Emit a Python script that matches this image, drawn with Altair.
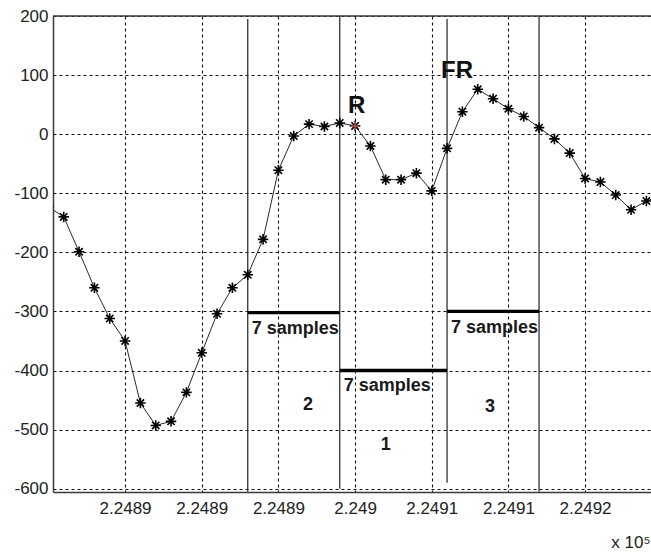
import altair as alt
import pandas as pd

# ECG-like signal, one value per sample (sample numbers are absolute indices)
SAMPLE_START = 224880
signal = [-123, -140, -199, -260, -312, -350, -455, -493, -486, -437,
          -370, -304, -260, -238, -178, -61, -3, 17, 13, 19,
          14, -20, -77, -77, -66, -96, -24, 38, 76, 60,
          43, 30, 11, -8, -32, -75, -81, -103, -128, -113,
          -104]

# axis ticks and their labels (x values shown in units of 1e5)
x_ticks = [224885, 224890, 224895, 224900, 224905, 224910, 224915]
x_tick_labels = ["2.2489", "2.2489", "2.2489", "2.249", "2.2491", "2.2491", "2.2492"]
y_ticks = [-600, -500, -400, -300, -200, -100, 0, 100, 200]
x_domain = [224880.3, 224919.3]
y_domain = [-605.6, 200]

# R peak and the following FR peak
r_sample = 224900
fr_label_sample = 224906.65
fr_label_value = 107

# window boundaries (vertical lines) and their vertical extent
edge_sample = [224893, 224899, 224906, 224912]
edge_top = [195, 200, 195, 200]
edge_bottom = [-605, -600, -590, -605]

# 7-sample windows (thick horizontal bars)
win_start = [224893, 224899, 224906]
win_end = [224899, 224906, 224912]
win_level = [-302, -400, -300]
win_text_value = [-330, -427, -328]
win_number = ["2", "1", "3"]
win_number_sample = [224896.93, 224902.0, 224908.8]
win_number_value = [-458, -526, -462]

FONT = "Liberation Sans"

df = pd.DataFrame({
    "sample": [SAMPLE_START + i for i in range(len(signal))],
    "value": signal,
})
r_df = df[df["sample"] == r_sample]
edges_df = pd.DataFrame({"sample": edge_sample, "top": edge_top, "bottom": edge_bottom})
wins_df = pd.DataFrame({
    "sample": win_start, "end": win_end, "value": win_level,
    "text_value": win_text_value, "label": ["7 samples"] * 3,
})
nums_df = pd.DataFrame({"sample": win_number_sample, "value": win_number_value,
                        "label": win_number})
peaks_df = pd.DataFrame({
    "sample": [r_sample + 0.1, fr_label_sample],
    "value": [48, fr_label_value],
    "label": ["R", "FR"],
})
top_df = pd.DataFrame({"value": [y_domain[1]]})

xs = alt.Scale(domain=x_domain, nice=False, zero=False)
ys = alt.Scale(domain=y_domain, nice=False, zero=False)

label_lookup = "[" + ",".join("'%s'" % s for s in x_tick_labels) + "]"

x_axis = alt.Axis(
    values=x_ticks,
    labelExpr=label_lookup + "[round((datum.value - %d) / 5)]" % x_ticks[0],
    grid=True, gridDash=[3, 3], gridColor="#111111", gridWidth=1.1,
    ticks=False, domainColor="#3a3a3a", domainWidth=1.5,
    labelFont=FONT, labelFontSize=17, labelColor="#222222", labelPadding=8,
    title="x 10\u2075", titleFont=FONT, titleFontSize=17, titleFontWeight="normal",
    titleColor="#222222", titleAlign="right", titleAnchor="end",
    titleX=597, titleY=50, titleBaseline="middle",
)
y_axis = alt.Axis(
    values=y_ticks, labelExpr="'' + datum.value",
    grid=True, gridDash=[3, 3], gridColor="#111111", gridWidth=1.1,
    ticks=False, domainColor="#3a3a3a", domainWidth=1.5,
    labelFont=FONT, labelFontSize=17, labelColor="#222222", labelPadding=5,
    title=None,
)


def X(field):
    return alt.X(field, type="quantitative", scale=xs, axis=x_axis)


def Y(field):
    return alt.Y(field, type="quantitative", scale=ys, axis=y_axis)


line = alt.Chart(df).mark_line(color="#2b2b2b", strokeWidth=1, clip=True).encode(
    x=X("sample"), y=Y("value"),
)

asterisk = "M-1,0L1,0M0,-1L0,1M-0.7,-0.7L0.7,0.7M-0.7,0.7L0.7,-0.7"
points = alt.Chart(df).mark_point(
    shape=asterisk, size=110, filled=False, color="black", strokeWidth=1.6, clip=True,
    opacity=1,
).encode(x=X("sample"), y=Y("value"))

r_mark = alt.Chart(r_df).mark_point(
    shape="M-1,0L1,0M0,-1L0,1", size=70, filled=False, color="#e06060",
    strokeWidth=1.5, opacity=0.85,
).encode(x=X("sample"), y=Y("value"))

top_border = alt.Chart(top_df).mark_rule(color="#3a3a3a", strokeWidth=1.5).encode(
    y=Y("value"),
)

edges = alt.Chart(edges_df).mark_rule(color="#333333", strokeWidth=1.3).encode(
    x=X("sample"), y=Y("top"), y2="bottom:Q",
)

bars = alt.Chart(wins_df).mark_rule(color="black", strokeWidth=3.3).encode(
    x=X("sample"), x2="end:Q", y=Y("value"),
)

win_text = alt.Chart(wins_df).mark_text(
    align="left", baseline="middle", dx=4, font=FONT, fontSize=18,
    fontWeight="bold", color="#1a1a1a",
).encode(x=X("sample"), y=Y("text_value"), text="label:N")

num_text = alt.Chart(nums_df).mark_text(
    align="center", baseline="middle", font=FONT, fontSize=18,
    fontWeight="bold", color="#1a1a1a",
).encode(x=X("sample"), y=Y("value"), text="label:N")

peak_text = alt.Chart(peaks_df).mark_text(
    align="center", baseline="middle", font=FONT, fontSize=24,
    fontWeight="bold", color="#111111",
).encode(x=X("sample"), y=Y("value"), text="label:N")

chart = alt.layer(
    line, edges, top_border, bars, points, r_mark, win_text, num_text, peak_text,
).properties(
    width=598, height=476,
    padding={"left": 53, "top": 16, "right": 0, "bottom": 63},
    autosize=alt.AutoSizeParams(type="none"),
    background="white",
).configure_view(stroke=None)

chart.save("out.html", embed_options={"renderer": "svg", "actions": False})
